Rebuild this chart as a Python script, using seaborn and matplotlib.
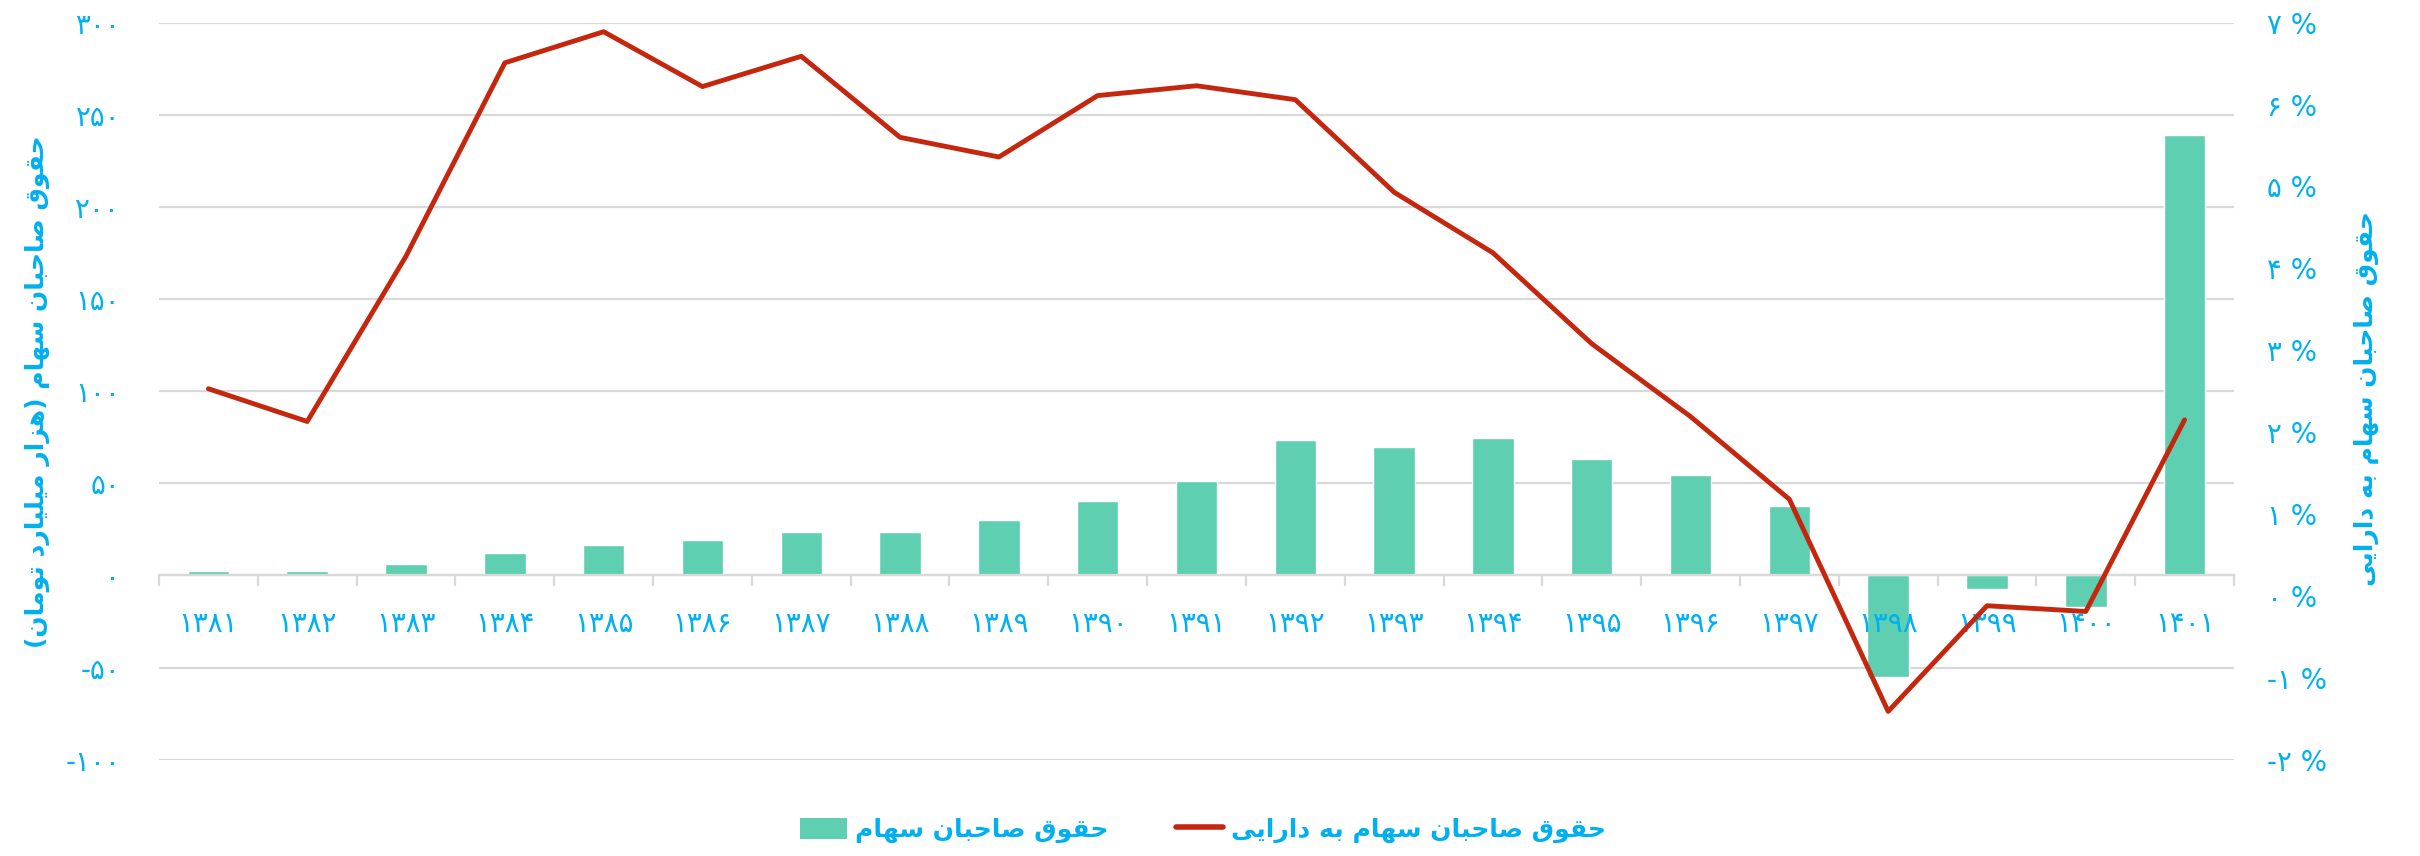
import numpy as np
import seaborn as sns
import matplotlib.pyplot as plt
from matplotlib.patches import Patch
from matplotlib.lines import Line2D

# سال‌ها و داده‌ها
years = [1381, 1382, 1383, 1384, 1385, 1386, 1387, 1388, 1389, 1390, 1391,
         1392, 1393, 1394, 1395, 1396, 1397, 1398, 1399, 1400, 1401]
equity = [2.3, 2.4, 6.1, 12.0, 16.7, 19.3, 23.4, 23.4, 30.1, 40.2, 51.0,
          73.7, 69.7, 74.5, 63.2, 54.7, 37.5, -55.0, -7.5, -17.1, 238.9]
equity_to_assets = [2.53, 2.13, 4.15, 6.51, 6.89, 6.22, 6.59, 5.60, 5.36, 6.11, 6.23,
                    6.06, 4.93, 4.19, 3.08, 2.19, 1.18, -1.41, -0.12, -0.19, 2.15]

left_ticks = [-100, -50, 0, 50, 100, 150, 200, 250, 300]
right_ticks = [-2, -1, 0, 1, 2, 3, 4, 5, 6, 7]

bar_label = "حقوق صاحبان سهام"
line_label = "حقوق صاحبان سهام به دارایی"
left_title = "حقوق صاحبان سهام (هزار میلیارد تومان)"
right_title = "حقوق صاحبان سهام به دارایی"

BAR_COLOR = "#5FCFB1"
LINE_COLOR = "#C5260E"
TEXT_COLOR = "#00B0F0"
GRID_COLOR = "#D9D9D9"

# شکل‌دهی ساده حروف فارسی (matplotlib خودش اتصال و راست‌به‌چپ ندارد)
FORMS = {
    'ا': ('\uFE8D', '\uFE8E', None, None),
    'ب': ('\uFE8F', '\uFE90', '\uFE91', '\uFE92'),
    'ت': ('\uFE95', '\uFE96', '\uFE97', '\uFE98'),
    'ح': ('\uFEA1', '\uFEA2', '\uFEA3', '\uFEA4'),
    'د': ('\uFEA9', '\uFEAA', None, None),
    'ر': ('\uFEAD', '\uFEAE', None, None),
    'ز': ('\uFEAF', '\uFEB0', None, None),
    'س': ('\uFEB1', '\uFEB2', '\uFEB3', '\uFEB4'),
    'ص': ('\uFEB9', '\uFEBA', '\uFEBB', '\uFEBC'),
    'ق': ('\uFED5', '\uFED6', '\uFED7', '\uFED8'),
    'ل': ('\uFEDD', '\uFEDE', '\uFEDF', '\uFEE0'),
    'م': ('\uFEE1', '\uFEE2', '\uFEE3', '\uFEE4'),
    'ن': ('\uFEE5', '\uFEE6', '\uFEE7', '\uFEE8'),
    'ه': ('\uFEE9', '\uFEEA', '\uFEEB', '\uFEEC'),
    'و': ('\uFEED', '\uFEEE', None, None),
    'ی': ('\uFEEF', '\uFEF0', '\uFEF3', '\uFEF4'),
}


def fa_text(text):
    out = []
    for i, ch in enumerate(text):
        if ch not in FORMS:
            out.append(ch)
            continue
        prev = text[i - 1] if i > 0 else ''
        nxt = text[i + 1] if i < len(text) - 1 else ''
        join_prev = prev in FORMS and FORMS[prev][2] is not None
        join_next = nxt in FORMS and FORMS[ch][2] is not None
        iso, fin, ini, med = FORMS[ch]
        if join_prev and join_next:
            out.append(med)
        elif join_prev:
            out.append(fin)
        elif join_next:
            out.append(ini)
        else:
            out.append(iso)
    s = ''.join(out)[::-1]
    return s.translate(str.maketrans('()', ')('))


def fa_num(v):
    return str(v).translate(str.maketrans('0123456789', '۰۱۲۳۴۵۶۷۸۹'))


sns.set_theme(style="white")
plt.rcParams['font.family'] = ['DejaVu Sans']

fig = plt.figure(figsize=(24.2, 8.56), dpi=100)
ax = fig.add_axes([159 / 2420, 1 - 759.7 / 856, 2075 / 2420, 737 / 856])

year_labels = [fa_num(y) for y in years]
sns.barplot(x=year_labels, y=equity, color=BAR_COLOR, saturation=1, width=0.42,
            ax=ax, zorder=2)

ax.set_ylim(-100, 300)
ax.set_xlim(-0.5, len(years) - 0.5)
ax.set_yticks(left_ticks)
ax.set_yticklabels([fa_num(t) for t in left_ticks])
ax.yaxis.grid(True, color=GRID_COLOR, linewidth=1.6)
ax.set_axisbelow(True)
for side in ['top', 'left', 'right']:
    ax.spines[side].set_visible(False)
ax.spines['bottom'].set_position(('data', 0))
ax.spines['bottom'].set_color(GRID_COLOR)
ax.spines['bottom'].set_linewidth(1.6)

# برچسب سال‌ها در مرکز (major)، تیک‌ها در مرز دسته‌ها (minor)
ax.set_xticks(range(len(years)))
ax.set_xticklabels(year_labels)
ax.set_xticks(np.arange(-0.5, len(years)), minor=True)
ax.tick_params(axis='x', which='major', length=0, labelbottom=False)
ax.tick_params(axis='x', which='minor', length=8, width=1.6, color=GRID_COLOR,
               direction='out', bottom=True)
ax.tick_params(axis='y', length=0, pad=28, labelsize=20, labelcolor=TEXT_COLOR)
ax.set_xlabel('')

ax.set_ylabel(fa_text(left_title), color=TEXT_COLOR, fontsize=18, fontweight='bold', va='center')
ax.yaxis.set_label_coords(-0.0585, 0.5)

# محور دوم: نسبت حقوق صاحبان سهام به دارایی
ax2 = ax.twinx()
sns.lineplot(x=np.arange(len(years)), y=equity_to_assets, color=LINE_COLOR, linewidth=3.5,
             ax=ax2, zorder=5)
ax2.set_ylim(-2, 7)
ax2.set_yticks(right_ticks)
ax2.set_yticklabels([fa_num(t) + ' %' for t in right_ticks])
ax2.tick_params(axis='y', length=0, pad=24, labelsize=20, labelcolor=TEXT_COLOR)
for side in ['top', 'left', 'right', 'bottom']:
    ax2.spines[side].set_visible(False)
ax2.grid(False)

# برچسب سال‌ها روی محور دوم تا روی میله‌ها و زیر خط دیده شوند
ax2.xaxis.set_visible(True)
ax2.spines['bottom'].set_position(('axes', 100 / 400))
ax2.tick_params(axis='x', which='major', length=0, pad=25, labelsize=20,
                labelcolor=TEXT_COLOR, bottom=True, labelbottom=True)
ax2.tick_params(axis='x', which='minor', length=0, bottom=False)
ax2.set_xlabel('')

ax2.set_ylabel(fa_text(right_title), color=TEXT_COLOR, fontsize=18, fontweight='bold',
               va='center', rotation=90)
ax2.yaxis.set_label_coords(1.064, 0.49)

handles = [Patch(facecolor=BAR_COLOR, edgecolor='none'),
           Line2D([0], [0], color=LINE_COLOR, linewidth=4)]
leg = fig.legend(handles, [fa_text(bar_label), fa_text(line_label)], loc='center',
                 bbox_to_anchor=(0.497, 0.03), ncol=2, frameon=False,
                 prop={'size': 18, 'weight': 'bold'}, handlelength=1.9, handleheight=0.9,
                 columnspacing=2.7, handletextpad=0.3)
for t in leg.get_texts():
    t.set_color(TEXT_COLOR)

fig.savefig("out.png", dpi=100)
plt.close(fig)
